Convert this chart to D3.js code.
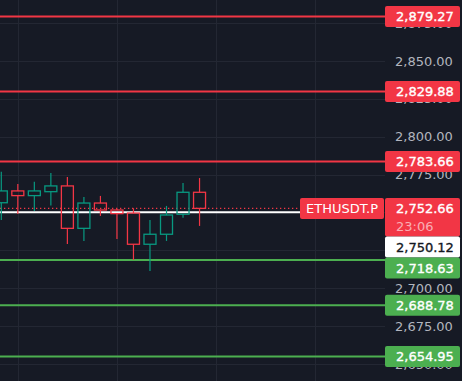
<!DOCTYPE html>
<html>
<head>
<meta charset="utf-8">
<script src="https://cdn.jsdelivr.net/npm/d3@7"></script>
<style>
  html, body { margin: 0; padding: 0; background: #161a25; }
  svg { display: block; font-family: "DejaVu Sans", sans-serif; }
</style>
</head>
<body>
<script>
// chart data
var candleOpen  = [2756.4, 2764.2, 2761.1, 2763.7, 2767.5, 2739.5, 2756.2, 2751.6, 2749.6, 2729.0, 2735.6, 2748.8, 2763.3];
var candleHigh  = [2776.9, 2768.8, 2770.3, 2776.0, 2773.4, 2760.2, 2760.9, 2752.5, 2752.7, 2745.0, 2754.3, 2769.4, 2772.7];
var candleLow   = [2745.0, 2749.0, 2750.9, 2754.5, 2729.2, 2731.2, 2747.7, 2732.5, 2718.6, 2711.4, 2731.2, 2746.5, 2741.1];
var candleClose = [2764.2, 2761.1, 2764.2, 2767.5, 2739.5, 2756.2, 2751.6, 2749.2, 2729.0, 2735.6, 2748.3, 2763.3, 2752.66];

var resistanceLevels = [2879.27, 2829.88, 2783.66];
var supportLevels = [2718.63, 2688.78, 2654.95];
var lastPrice = 2752.66;
var markPrice = 2750.12;
var countdown = "23:06";
var symbol = "ETHUSDT.P";
var priceTicks = [2650, 2675, 2700, 2725, 2750, 2775, 2800, 2825, 2850, 2875];
var timeGridIdx = [1, 7, 13, 19];

var svgWidth = 462, svgHeight = 381;
var plotRight = 385;
var RED = "#f23645", GREEN = "#4caf50", UP = "#089981", BG = "#161a25", GRID = "#232733";

var svg = d3.select("body").append("svg")
  .attr("width", svgWidth)
  .attr("height", svgHeight);

svg.append("rect").attr("width", svgWidth).attr("height", svgHeight).attr("fill", BG);

var y = d3.scaleLinear().domain([2638.75, 2890.2]).range([svgHeight, 0]);
var x = d3.scaleLinear().domain([0, 1]).range([1.3, 17.82]);

var fmt = d3.format(",.2f");

// grid
svg.append("g")
  .selectAll("line.h")
  .data(priceTicks)
  .enter().append("line")
  .attr("x1", 0).attr("x2", plotRight)
  .attr("y1", d => Math.round(y(d)) + 0.5).attr("y2", d => Math.round(y(d)) + 0.5)
  .attr("stroke", GRID).attr("stroke-width", 1);

svg.append("g")
  .selectAll("line.v")
  .data(timeGridIdx)
  .enter().append("line")
  .attr("x1", d => Math.round(x(d)) + 0.5).attr("x2", d => Math.round(x(d)) + 0.5)
  .attr("y1", 0).attr("y2", svgHeight)
  .attr("stroke", GRID).attr("stroke-width", 1);

// price axis labels
var axis = svg.append("g")
  .attr("transform", `translate(${plotRight},0)`)
  .call(d3.axisRight(y).tickValues(priceTicks).tickFormat(fmt).tickSize(0).tickPadding(10));
axis.select(".domain").remove();
axis.selectAll("text")
  .attr("fill", "#b2b5be")
  .style("font-size", "13px")
  .style("font-family", "DejaVu Sans, sans-serif");

// level lines
svg.append("g").selectAll("line")
  .data(resistanceLevels)
  .enter().append("line")
  .attr("x1", 0).attr("x2", plotRight)
  .attr("y1", d => y(d)).attr("y2", d => y(d))
  .attr("stroke", RED).attr("stroke-width", 2);

svg.append("g").selectAll("line")
  .data(supportLevels)
  .enter().append("line")
  .attr("x1", 0).attr("x2", plotRight)
  .attr("y1", d => y(d)).attr("y2", d => y(d))
  .attr("stroke", GREEN).attr("stroke-width", 2);

// mark price line and last price dotted line
svg.append("line")
  .attr("x1", 0).attr("x2", 300)
  .attr("y1", y(markPrice)).attr("y2", y(markPrice))
  .attr("stroke", "#ffffff").attr("stroke-width", 2);

svg.append("line")
  .attr("x1", 0).attr("x2", 300)
  .attr("y1", y(lastPrice)).attr("y2", y(lastPrice))
  .attr("stroke", RED).attr("stroke-width", 1.3)
  .attr("stroke-dasharray", "1.3,2.7");

// candles
var candles = candleOpen.map((o, i) => ({
  i: i, open: o, high: candleHigh[i], low: candleLow[i], close: candleClose[i]
}));

var cg = svg.append("g").selectAll("g")
  .data(candles)
  .enter().append("g");

cg.append("line")
  .attr("x1", d => x(d.i)).attr("x2", d => x(d.i))
  .attr("y1", d => y(d.high)).attr("y2", d => y(Math.max(d.open, d.close)))
  .attr("stroke", d => d.close >= d.open ? UP : RED).attr("stroke-width", 1.2);

cg.append("line")
  .attr("x1", d => x(d.i)).attr("x2", d => x(d.i))
  .attr("y1", d => y(Math.min(d.open, d.close))).attr("y2", d => y(d.low))
  .attr("stroke", d => d.close >= d.open ? UP : RED).attr("stroke-width", 1.2);

cg.append("rect")
  .attr("x", d => x(d.i) - 6)
  .attr("width", 12)
  .attr("y", d => y(Math.max(d.open, d.close)))
  .attr("height", d => Math.max(1, y(Math.min(d.open, d.close)) - y(Math.max(d.open, d.close))))
  .attr("fill", "none")
  .attr("stroke", d => d.close >= d.open ? UP : RED)
  .attr("stroke-width", 1.3);

// axis price labels, stacked so they do not overlap
var boxH = 21;
var labels = []
  .concat(resistanceLevels.map(v => ({ v: v, bg: RED, fg: "#ffffff", h: boxH })))
  .concat([{ v: lastPrice, bg: RED, fg: "#ffffff", h: boxH * 1.84, sub: countdown }])
  .concat([{ v: markPrice, bg: "#ffffff", fg: "#131722", h: boxH }])
  .concat(supportLevels.map(v => ({ v: v, bg: GREEN, fg: "#ffffff", h: boxH })));
labels.sort((a, b) => y(a.v) - y(b.v));
var lastBottom = -Infinity;
labels.forEach(function(l) {
  l.top = Math.max(y(l.v) - boxH / 2, lastBottom);
  lastBottom = l.top + l.h;
});

var lg = svg.append("g").selectAll("g")
  .data(labels)
  .enter().append("g");

lg.append("rect")
  .attr("x", plotRight).attr("width", 75)
  .attr("y", d => d.top).attr("height", d => d.h)
  .attr("rx", 2)
  .attr("fill", d => d.bg);

lg.append("text")
  .attr("x", 396)
  .attr("y", d => d.top + boxH / 2 + 4.7)
  .attr("fill", d => d.fg)
  .attr("stroke", d => d.fg)
  .attr("stroke-width", 0.35)
  .style("font-size", "13px")
  .text(d => fmt(d.v));

lg.filter(d => d.sub).append("text")
  .attr("x", 396)
  .attr("y", d => d.top + boxH * 1.36 + 4.7)
  .attr("fill", "#ffffff")
  .attr("fill-opacity", 0.6)
  .style("font-size", "13px")
  .text(d => d.sub);

// symbol label
var symTop = labels.find(l => l.sub).top;
svg.append("rect")
  .attr("x", 300).attr("width", 84)
  .attr("y", symTop).attr("height", boxH)
  .attr("rx", 2)
  .attr("fill", RED);
svg.append("text")
  .attr("x", 306)
  .attr("y", symTop + boxH / 2 + 4.7)
  .attr("fill", "#ffffff")
  .style("font-size", "13px")
  .text(symbol);
</script>
</body>
</html>
